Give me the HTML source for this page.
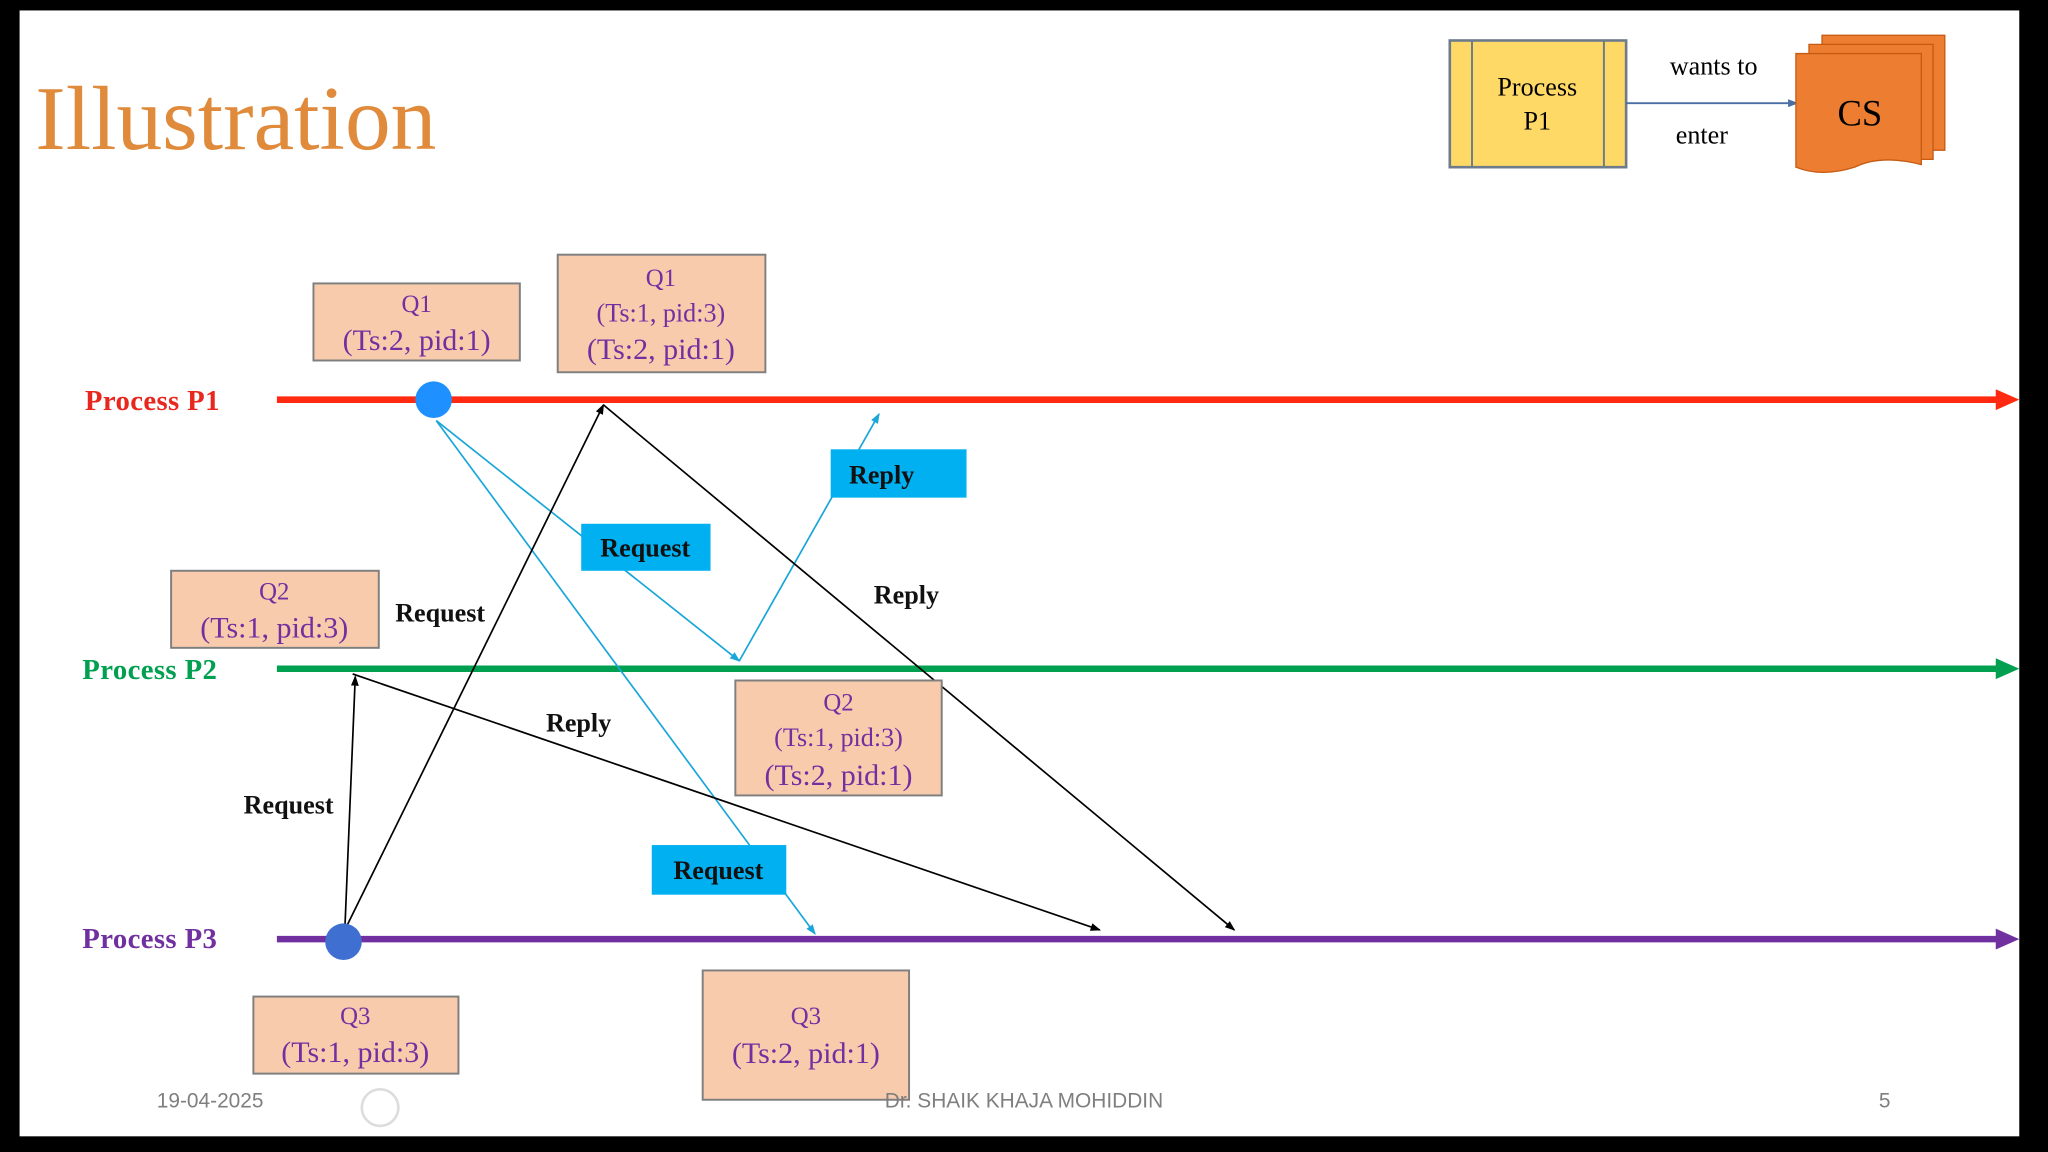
<!DOCTYPE html>
<html><head><meta charset="utf-8"><style>
html,body{margin:0;padding:0;background:#000;}
svg{display:block;}
</style></head><body>
<svg width="2048" height="1152" viewBox="0 0 1568 882" xmlns="http://www.w3.org/2000/svg" font-family="'Liberation Serif', serif">
<defs>
<marker id="ab" markerWidth="8" markerHeight="8" refX="7" refY="4" orient="auto" markerUnits="userSpaceOnUse"><path d="M0,1 L8,4 L0,7 z" fill="#000"/></marker>
<marker id="ac" markerWidth="8" markerHeight="8" refX="7" refY="4" orient="auto" markerUnits="userSpaceOnUse"><path d="M0,1 L8,4 L0,7 z" fill="#1aa6d8"/></marker>
<marker id="ag" markerWidth="8" markerHeight="8" refX="7" refY="4" orient="auto" markerUnits="userSpaceOnUse"><path d="M0,1 L8,4 L0,7 z" fill="#4a6fa5"/></marker>
</defs>
<rect x="0" y="0" width="1568" height="882" fill="#000"/>
<rect x="15" y="8" width="1531" height="862" fill="#fff"/>
<text x="27" y="114" font-size="70" fill="#E08A3C">Illustration</text>

<rect x="1110" y="31" width="135" height="97" fill="#FFD966" stroke="#6d7c8c" stroke-width="2"/>
<line x1="1127" y1="31" x2="1127" y2="128" stroke="#6d7c8c" stroke-width="1.5"/>
<line x1="1228" y1="31" x2="1228" y2="128" stroke="#6d7c8c" stroke-width="1.5"/>
<text x="1177" y="73" font-size="20" text-anchor="middle">Process</text>
<text x="1177" y="99" font-size="20" text-anchor="middle">P1</text>
<line x1="1245" y1="79" x2="1376" y2="79" stroke="#4a6fa5" stroke-width="1.5" marker-end="url(#ag)"/>
<text x="1312" y="57" font-size="20" text-anchor="middle">wants to</text>
<text x="1303" y="110" font-size="20" text-anchor="middle">enter</text>
<path d="M1395,27 H1489 V115 H1395 Z" fill="#ED7D31" stroke="#c55a11"/>
<path d="M1385,34 H1480 V122 H1385 Z" fill="#ED7D31" stroke="#c55a11"/>
<path d="M1375,41 H1471 V126 Q1440,118 1420,128 Q1395,136 1375,128 Z" fill="#ED7D31" stroke="#c55a11"/>
<text x="1424" y="96" font-size="28" text-anchor="middle">CS</text>

<line x1="212" y1="306" x2="1530" y2="306" stroke="#FF2A10" stroke-width="5"/>
<path d="M1528,298 L1546,306 L1528,314 z" fill="#FF2A10"/>
<line x1="212" y1="512" x2="1530" y2="512" stroke="#00A050" stroke-width="5"/>
<path d="M1528,504 L1546,512 L1528,520 z" fill="#00A050"/>
<line x1="212" y1="719" x2="1530" y2="719" stroke="#7030A0" stroke-width="5"/>
<path d="M1528,711 L1546,719 L1528,727 z" fill="#7030A0"/>
<text x="65" y="314" font-size="22" font-weight="bold" fill="#E8281E" letter-spacing="0.3">Process P1</text>
<text x="63" y="520" font-size="22" font-weight="bold" fill="#00A050" letter-spacing="0.3">Process P2</text>
<text x="63" y="726" font-size="22" font-weight="bold" fill="#7030A0" letter-spacing="0.3">Process P3</text>

<g stroke-width="1.3" fill="none">
<line x1="334" y1="322" x2="566" y2="506" stroke="#1aa6d8" marker-end="url(#ac)"/>
<line x1="334" y1="322" x2="624" y2="715" stroke="#1aa6d8" marker-end="url(#ac)"/>
<line x1="566" y1="506" x2="673" y2="317" stroke="#1aa6d8" marker-end="url(#ac)"/>
<line x1="264" y1="712" x2="462" y2="310" stroke="#000" marker-end="url(#ab)"/>
<line x1="264" y1="712" x2="272" y2="518" stroke="#000" marker-end="url(#ab)"/>
<line x1="462" y1="310" x2="945" y2="712" stroke="#000" marker-end="url(#ab)"/>
<line x1="270" y1="516" x2="842" y2="712" stroke="#000" marker-end="url(#ab)"/>
</g>
<circle cx="332" cy="306" r="14" fill="#1E90FF"/>
<circle cx="263" cy="721" r="14" fill="#3F6FD0"/>

<g fill="#F8CBAD" stroke="#7f7f7f" stroke-width="1.5">
<rect x="240" y="217" width="158" height="59"/>
<rect x="427" y="195" width="159" height="90"/>
<rect x="131" y="437" width="159" height="59"/>
<rect x="563" y="521" width="158" height="88"/>
<rect x="194" y="763" width="157" height="59"/>
<rect x="538" y="743" width="158" height="99"/>
</g>
<g fill="#7030A0" text-anchor="middle">
<text x="319" y="239" font-size="19">Q1</text>
<text x="319" y="268" font-size="23">(Ts:2, pid:1)</text>
<text x="506" y="219" font-size="19">Q1</text>
<text x="506" y="246" font-size="20">(Ts:1, pid:3)</text>
<text x="506" y="275" font-size="23">(Ts:2, pid:1)</text>
<text x="210" y="459" font-size="19">Q2</text>
<text x="210" y="488" font-size="23">(Ts:1, pid:3)</text>
<text x="642" y="544" font-size="19">Q2</text>
<text x="642" y="571" font-size="20">(Ts:1, pid:3)</text>
<text x="642" y="601" font-size="23">(Ts:2, pid:1)</text>
<text x="272" y="784" font-size="19">Q3</text>
<text x="272" y="813" font-size="23">(Ts:1, pid:3)</text>
<text x="617" y="784" font-size="19">Q3</text>
<text x="617" y="814" font-size="23">(Ts:2, pid:1)</text>
</g>

<g fill="#00B0F0">
<rect x="636" y="344" width="104" height="37"/>
<rect x="445" y="401" width="99" height="36"/>
<rect x="499" y="647" width="103" height="38"/>
</g>
<g font-size="20" font-weight="bold" text-anchor="middle" fill="#111">
<text x="675" y="370">Reply</text>
<text x="494" y="426">Request</text>
<text x="550" y="673">Request</text>
<text x="337" y="476">Request</text>
<text x="694" y="462">Reply</text>
<text x="443" y="560">Reply</text>
<text x="221" y="623">Request</text>
</g>

<g font-family="'Liberation Sans', sans-serif" font-size="16" fill="#7f7f7f">
<text x="120" y="848">19-04-2025</text>
<text x="784" y="848" text-anchor="middle">Dr. SHAIK KHAJA MOHIDDIN</text>
<text x="1443" y="848" text-anchor="middle">5</text>
</g>
<circle cx="291" cy="848" r="14" fill="none" stroke="#ddd" stroke-width="2"/>
</svg>
</body></html>
